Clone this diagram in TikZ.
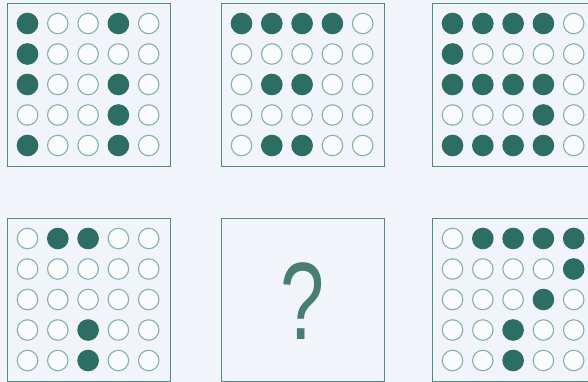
\documentclass[tikz,border=0pt]{standalone}
\usepackage{fontspec}
\setsansfont{Liberation Sans}
\usetikzlibrary{positioning}
\definecolor{paper}{RGB}{242,244,251}
\definecolor{teal}{RGB}{44,110,100}
\definecolor{rim}{RGB}{78,140,130}
\definecolor{ring}{RGB}{130,178,170}
\tikzset{
  x=1pt,y=-1pt,
  panel/.style={draw=rim,line width=0.9pt,minimum size=163pt,inner sep=0pt,anchor=north west},
  dot/.style={circle,inner sep=0pt,minimum size=20.5pt,line width=1.1pt,draw=ring,fill=white!60!paper},
  full/.style={dot,draw=teal,fill=teal},
  query/.style={font=\sffamily\fontsize{110}{110}\selectfont,text=rim!90!black,inner sep=0pt},
}
\begin{document}
\begin{tikzpicture}
  \fill[paper] (0,0) rectangle (588,382);
  \useasboundingbox (0,0) rectangle (588,382);
  % panels
  \node[panel] (p1) at (7,3) {};
  \node[panel] (p2) at (221,3) {};
  \node[panel] (p3) at (432,3) {};
  \node[panel] (p4) at (7,218) {};
  \node[panel] (p5) at (221,218) {};
  \node[panel] (p6) at (432,218) {};
  % dot patterns, one row per entry
  \foreach \p/\rows in {
      1/{{1,0,0,1,0},{1,0,0,0,0},{1,0,0,1,0},{0,0,0,1,0},{1,0,0,1,0}},
      2/{{1,1,1,1,0},{0,0,0,0,0},{0,1,1,0,0},{0,0,0,0,0},{0,1,1,0,0}},
      3/{{1,1,1,1,0},{1,0,0,0,0},{1,1,1,1,0},{0,0,0,1,0},{1,1,1,1,0}},
      4/{{0,1,1,0,0},{0,0,0,0,0},{0,0,0,0,0},{0,0,1,0,0},{0,0,1,0,0}},
      6/{{0,1,1,1,1},{0,0,0,0,1},{0,0,0,1,0},{0,0,1,0,0},{0,0,1,0,0}}}
    \foreach \row [count=\r] in \rows
      \foreach \v [count=\c] in \row {
        \ifnum\v=1 \def\kind{full}\else\def\kind{dot}\fi
        \node[\kind] (d\p-\r-\c) at ([xshift={20.5+30.3*(\c-1)},yshift={-(20.5+30.5*(\r-1))}]p\p.north west) {};
      }
  \node[query] (q) at ([yshift=-1pt]p5.center) {\scalebox{0.72}[1]{?}};
\end{tikzpicture}
\end{document}
